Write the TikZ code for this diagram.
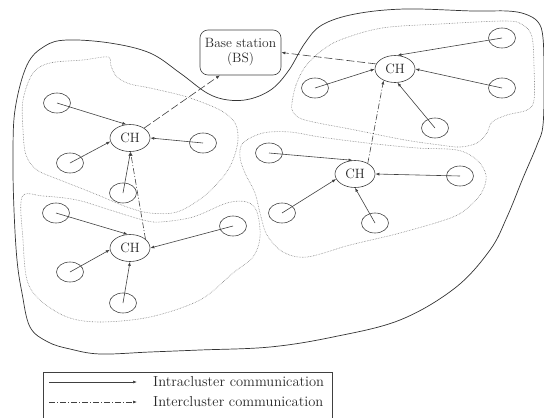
\documentclass[tikz,border=0pt]{standalone}
\usetikzlibrary{shapes.geometric,arrows.meta}
\begin{document}
\begin{tikzpicture}[x=1pt,y=-1pt,
  every node/.style={font=\fontsize{13.5}{15}\selectfont, text=black!85},
  legendtext/.style={font=\fontsize{14.5}{16}\selectfont, anchor=west, inner sep=0pt},
  sensor/.style={draw=black!75, ellipse, minimum width=27pt, minimum height=20pt, inner sep=0pt, line width=0.6pt},
  head/.style={draw=black!75, ellipse, minimum width=40pt, minimum height=27pt, inner sep=0pt, line width=0.6pt},
  tip/.style={-{Latex[length=4pt,width=3pt]}},
  intra/.style={draw=black!75, line width=0.6pt, tip},
  inter/.style={draw=black!75, line width=0.6pt, tip, dash pattern=on 6pt off 2pt on 1pt off 2pt},
  tobs/.style={draw=black!75, line width=0.6pt, tip, dash pattern=on 8pt off 3pt},
  region/.style={draw=black!50, densely dotted, line width=0.6pt},
  outline/.style={draw=black!80, line width=0.7pt},
  bsbox/.style={draw=black!75, rounded corners=8pt, minimum width=81pt, minimum height=45pt, align=center, inner sep=1pt, line width=0.6pt}]
\useasboundingbox (0,0) rectangle (544,418);

% outer field boundary
\draw[outline] plot[smooth cycle, tension=0.6] coordinates {
 (27,65) (45,46) (67,40) (110,43) (150,53) (180,73) (207,93) (228,100) (250,99) (272,89)
 (289,70) (305,43) (322,25) (355,14) (405,9) (473,11) (507,11) (525,14) (538,22) (543,38)
 (544,80) (543,125) (537,145) (523,178) (507,217) (490,250) (455,288) (400,320) (333,337)
 (270,347) (200,350) (150,352) (100,354) (70,349) (48,342) (30,327) (22,293) (17,260)
 (14,210) (13,160) (15,110)};

% cluster regions
\draw[region] plot[smooth cycle, tension=0.55] coordinates {
 (23,100) (33,73) (50,63) (83,60) (108,57) (111,66) (117,77) (130,84) (150,88) (187,97)
 (220,110) (235,123) (238,140) (233,160) (223,177) (203,197) (177,212) (150,213) (127,207)
 (93,193) (60,180) (37,170) (26,155) (23,130)};
\draw[region] plot[smooth cycle, tension=0.55] coordinates {
 (22,197) (43,196) (77,200) (110,210) (143,220) (160,222) (193,217) (227,203) (247,202)
 (257,212) (260,237) (253,257) (233,273) (200,300) (150,317) (100,322) (67,317) (40,300)
 (27,280) (23,240)};
\draw[region] plot[smooth cycle, tension=0.55] coordinates {
 (292,103) (296,85) (305,67) (320,52) (340,40) (382,28) (440,24) (506,21) (523,25) (532,37)
 (534,67) (534,100) (527,110) (507,115) (492,122) (487,133) (477,143) (460,147) (440,145)
 (405,140) (355,130) (305,120) (293,112)};
\draw[region] plot[smooth cycle, tension=0.55] coordinates {
 (243,143) (263,133) (290,132) (320,137) (367,143) (417,148) (457,150) (477,160) (486,175)
 (483,190) (473,203) (453,217) (400,233) (350,245) (307,257) (283,252) (267,235) (260,213)
 (255,193) (245,173) (240,157)};

% base station
\node[bsbox] (bs) at (240.5,52.5) {Base station\\(BS)};

% cluster heads
\node[head] (ch1) at (130,138) {CH};
\node[head] (ch2) at (395,69) {CH};
\node[head] (ch3) at (355,174) {CH};
\node[head] (ch4) at (130,248) {CH};

% sensors
\node[sensor] (a1) at (57,103) {};
\node[sensor] (a2) at (70,163) {};
\node[sensor] (a3) at (203,143) {};
\node[sensor] (a4) at (123,193) {};
\node[sensor] (b1) at (502,38) {};
\node[sensor] (b2) at (315,88) {};
\node[sensor] (b3) at (502,88) {};
\node[sensor] (b4) at (435,128) {};
\node[sensor] (c1) at (269,153) {};
\node[sensor] (c2) at (460,176) {};
\node[sensor] (c3) at (282,213) {};
\node[sensor] (c4) at (375,223) {};
\node[sensor] (d1) at (56,213) {};
\node[sensor] (d2) at (233,226) {};
\node[sensor] (d3) at (70,272) {};
\node[sensor] (d4) at (123,303) {};

% intracluster
\draw[intra] (a1.center) -- (ch1.105);
\draw[intra] (a2.center) -- (ch1.190);
\draw[intra] (a3.center) -- (ch1.east);
\draw[intra] (a4.center) -- (ch1.272);
\draw[intra] (b1.center) -- (ch2.80);
\draw[intra] (b2.center) -- (ch2.west);
\draw[intra] (b3.center) -- (ch2.east);
\draw[intra] (b4.center) -- (ch2.280);
\draw[intra] (c1.center) -- (ch3.100);
\draw[intra] (c2.center) -- (ch3.east);
\draw[intra] (c3.center) -- (ch3.195);
\draw[intra] (c4.center) -- (ch3.270);
\draw[intra] (d1.center) -- (ch4.100);
\draw[intra] (d2.center) -- (ch4.east);
\draw[intra] (d3.center) -- (ch4.185);
\draw[intra] (d4.center) -- (ch4.270);

% intercluster
\draw[inter] (ch4.30) -- (ch1.272);
\draw[inter] (ch3.40) -- (ch2.225);
\draw[tobs] (ch1.35) -- (bs.228);
\draw[tobs] (ch2.165) -- (bs.east);

% legend
\node[draw=black!75, line width=0.6pt, anchor=north west, minimum width=289pt, minimum height=62pt, inner sep=0pt] (legend) at (43,372) {};
\coordinate (l1a) at (49,382);
\coordinate (l1b) at (137,382);
\coordinate (l2a) at (49,402);
\coordinate (l2b) at (137,402);
\draw[intra] (l1a) -- (l1b);
\draw[inter] (l2a) -- (l2b);
\node[legendtext] (t1) at (153,382) {Intracluster communication};
\node[legendtext] (t2) at (153,402) {Intercluster communication};
\end{tikzpicture}
\end{document}
